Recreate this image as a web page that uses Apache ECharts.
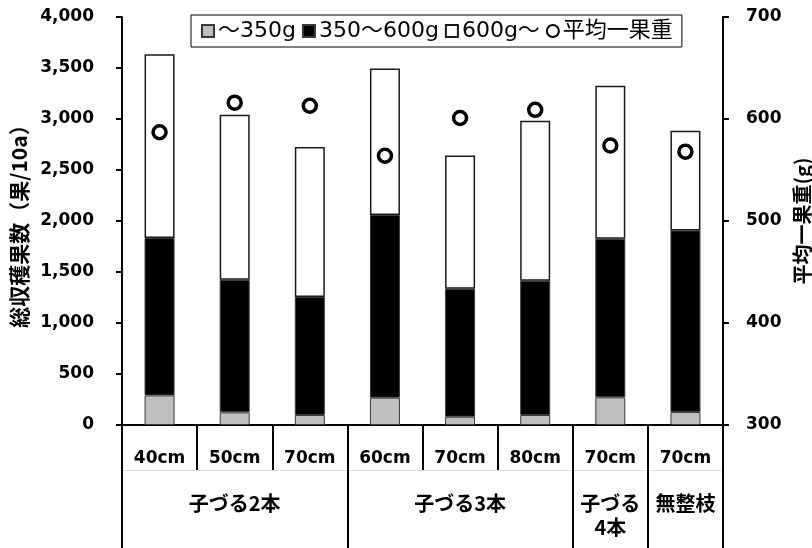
<!DOCTYPE html>
<html>
<head>
<meta charset="utf-8">
<script src="https://cdn.jsdelivr.net/npm/echarts@6/dist/echarts.min.js"></script>
<style>
  html, body { margin: 0; padding: 0; background: #fff; }
  #chart { width: 812px; height: 548px; }
</style>
</head>
<body>
<div id="chart"></div>
<script>
// Planting trials: spacing per vine-training method
const categories = ['40cm', '50cm', '70cm', '60cm', '70cm', '80cm', '70cm', '70cm'];
// Training-method labels, placed at the middle column of each group
const groupLabels = ['', '子づる2本', '', '', '子づる3本', '', '子づる\n4本', '無整枝'];
// First column index of each training-method group
const groupStarts = [0, 3, 6, 7];

// Harvested fruit count per weight class (fruits / 10a)
const small = [290, 124, 98, 268, 81, 98, 271, 127];        // ～350g
const medium = [1543, 1300, 1157, 1791, 1255, 1317, 1555, 1781]; // 350～600g
const large = [1802, 1618, 1470, 1436, 1307, 1568, 1501, 977];   // 600g～
// Mean fruit weight (g)
const meanWeight = [587, 616, 613, 564, 601, 609, 574, 568];

const leftTicks = { min: 0, max: 4000, interval: 500 };
const rightTicks = { min: 300, max: 700, interval: 100 };

const numFont = "'DejaVu Sans', 'Noto Sans CJK JP', sans-serif";
const jpFont = "'Noto Sans CJK JP', sans-serif";
const legendFont = "'DejaVu Sans', 'Noto Sans CJK JP', sans-serif";

const chart = echarts.init(document.getElementById('chart'), null, { renderer: 'canvas' });

const blackLine = { color: '#000', width: 2 };

chart.setOption({
  animation: false,
  backgroundColor: '#fff',
  textStyle: { color: '#000' },
  grid: { left: 122, right: 89, top: 17, bottom: 123, containLabel: false, outerBoundsMode: 'none' },
  legend: {
    left: 191,
    top: 15,
    padding: [5, 9, 5, 10],
    itemGap: 6,
    itemWidth: 12,
    itemHeight: 12,
    borderColor: '#000',
    borderWidth: 1,
    backgroundColor: '#fff',
    textStyle: { fontFamily: legendFont, fontSize: 22, color: '#000', padding: [0, 0, 0, -1] },
    data: [
      { name: '～350g', icon: 'rect' },
      { name: '350～600g', icon: 'rect' },
      { name: '600g～', icon: 'rect' },
      { name: '平均一果重', icon: 'circle' }
    ]
  },
  xAxis: [
    {
      type: 'category',
      data: categories,
      position: 'bottom',
      axisLine: { lineStyle: blackLine },
      axisTick: { show: true, interval: 0, length: 45, lineStyle: blackLine },
      axisLabel: {
        interval: 0, margin: 24, fontSize: 17, fontWeight: 'bold',
        fontFamily: numFont, color: '#000', lineHeight: 20
      }
    },
    {
      type: 'category',
      data: groupLabels,
      position: 'bottom',
      axisLine: { show: false },
      axisTick: {
        show: true,
        interval: function (i) { return groupStarts.indexOf(i) !== -1; },
        length: 130,
        lineStyle: blackLine
      },
      axisLabel: {
        interval: 0, margin: 66, fontSize: 20, fontWeight: 'bold',
        fontFamily: jpFont, color: '#000', lineHeight: 24
      }
    },
    {
      type: 'category',
      data: categories,
      position: 'bottom',
      offset: 45,
      axisLine: { lineStyle: { color: '#dedede', width: 1 } },
      axisTick: { show: false },
      axisLabel: { show: false }
    }
  ],
  yAxis: [
    {
      type: 'value',
      min: leftTicks.min, max: leftTicks.max, interval: leftTicks.interval,
      position: 'left',
      name: '総収穫果数（果/10a）',
      nameLocation: 'middle',
      nameGap: 90,
      nameTextStyle: { fontFamily: jpFont, fontSize: 21, fontWeight: 'bold', color: '#000' },
      axisLine: { show: true, lineStyle: blackLine },
      axisTick: { show: true, length: 6, lineStyle: blackLine },
      splitLine: { show: false },
      axisLabel: {
        margin: 28, fontSize: 17, fontWeight: 'bold', fontFamily: numFont, color: '#000',
        formatter: function (v) { return v.toLocaleString('en-US'); }
      }
    },
    {
      type: 'value',
      min: rightTicks.min, max: rightTicks.max, interval: rightTicks.interval,
      position: 'right',
      name: '平均一果重(g)',
      nameLocation: 'middle',
      nameGap: 68,
      nameRotate: 90,
      nameTextStyle: { fontFamily: jpFont, fontSize: 20, fontWeight: 'bold', color: '#000' },
      axisLine: { show: true, lineStyle: blackLine },
      axisTick: { show: true, length: 6, lineStyle: blackLine },
      splitLine: { show: false },
      axisLabel: { margin: 23, fontSize: 17, fontWeight: 'bold', fontFamily: numFont, color: '#000' }
    }
  ],
  series: [
    {
      name: '～350g', type: 'bar', stack: 'count', barWidth: 30,
      data: small,
      itemStyle: { color: '#bfbfbf', borderColor: '#3a3a3a', borderWidth: 1 }
    },
    {
      name: '350～600g', type: 'bar', stack: 'count', barWidth: 30,
      data: medium,
      itemStyle: { color: '#000', borderColor: '#3a3a3a', borderWidth: 1 }
    },
    {
      name: '600g～', type: 'bar', stack: 'count', barWidth: 30,
      data: large,
      itemStyle: { color: '#fff', borderColor: '#1a1a1a', borderWidth: 1.5 }
    },
    {
      name: '平均一果重', type: 'scatter', yAxisIndex: 1, xAxisIndex: 0,
      data: meanWeight,
      symbol: 'circle', symbolSize: 13,
      itemStyle: { color: '#fff', borderColor: '#000', borderWidth: 3.5, opacity: 1 },
      z: 5
    }
  ]
});
</script>
</body>
</html>
